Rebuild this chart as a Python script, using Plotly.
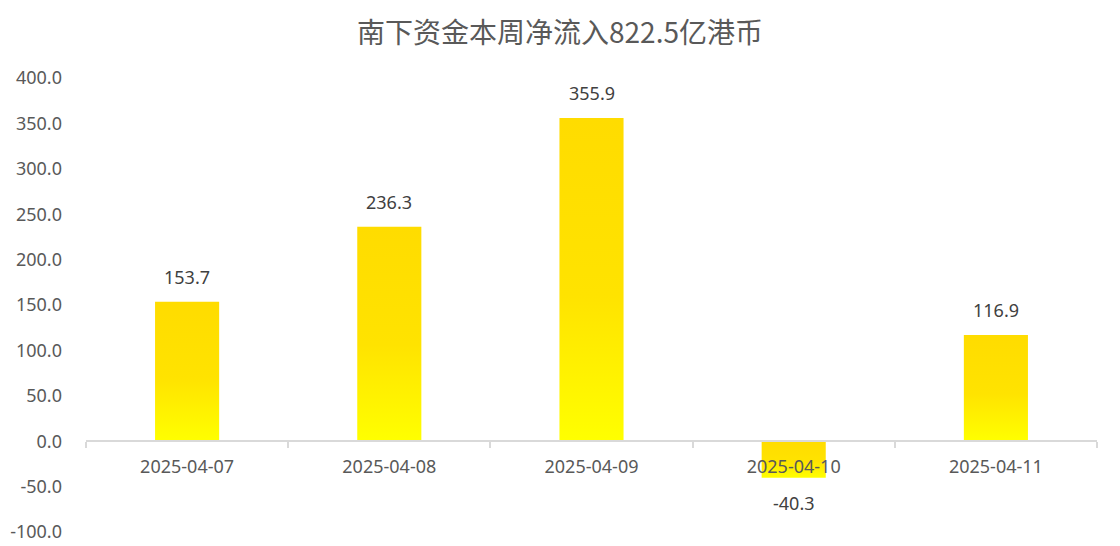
import plotly.graph_objects as go

title = "南下资金本周净流入822.5亿港币"
dates = ["2025-04-07", "2025-04-08", "2025-04-09", "2025-04-10", "2025-04-11"]
values = [153.7, 236.3, 355.9, -40.3, 116.9]
y_ticks = [-100, -50, 0, 50, 100, 150, 200, 250, 300, 350, 400]

bar_w = 0.317
gradient = [[0, "#FFFF00"], [0.45, "#FFE300"], [1, "#FFDC00"]]
font_fam = "Noto Sans, Noto Sans CJK SC, sans-serif"

fig = go.Figure()
for i, v in enumerate(values):
    x0, x1 = i - bar_w / 2, i + bar_w / 2
    fig.add_trace(go.Scatter(
        x=[x0, x1, x1, x0, x0], y=[0, 0, v, v, 0],
        mode="lines", fill="toself", line=dict(width=0),
        fillgradient=dict(type="vertical", colorscale=gradient),
        hoverinfo="skip", showlegend=False,
    ))
    fig.add_annotation(
        x=i, y=v, text=f"{v:.1f}", showarrow=False,
        yanchor="bottom" if v >= 0 else "top",
        yshift=11 if v >= 0 else -11,
        font=dict(family=font_fam, size=18, color="#404040"),
    )

y_min, y_max = min(y_ticks), max(y_ticks)
zero_pos = (0 - y_min) / (y_max - y_min)

fig.update_layout(
    width=1120, height=546,
    margin=dict(l=86, r=23, t=78, b=14, autoexpand=False),
    paper_bgcolor="white", plot_bgcolor="white",
    title=dict(text=title, x=0.5, xanchor="center", y=1 - 33 / 546, yanchor="middle",
               yref="container",
               font=dict(family="Noto Sans CJK SC, sans-serif", size=28, color="#595959")),
    xaxis=dict(
        range=[-0.5, len(dates) - 0.5], anchor="free", position=zero_pos,
        tickvals=list(range(len(dates))), ticktext=dates, ticks="",
        showline=True, linecolor="#D9D9D9", linewidth=1.5,
        showgrid=False, zeroline=False, automargin=False,
        minor=dict(tick0=0.5, dtick=1, ticks="outside", ticklen=6, tickcolor="#D9D9D9",
                   tickwidth=1.5, showgrid=False),
        tickfont=dict(family=font_fam, size=18, color="#595959"),
        ticklabelstandoff=9,
    ),
    yaxis=dict(
        range=[y_min, y_max], tickvals=y_ticks, ticktext=[f"{t:.1f}" for t in y_ticks],
        showgrid=False, zeroline=False, showline=False, ticks="", automargin=False,
        tickfont=dict(family=font_fam, size=18, color="#595959"),
        ticklabelstandoff=23,
    ),
)

fig.write_html(
    "out.html",
    config={"displayModeBar": False},
    post_script="document.body.style.margin='0';document.body.style.overflow='hidden';",
)
